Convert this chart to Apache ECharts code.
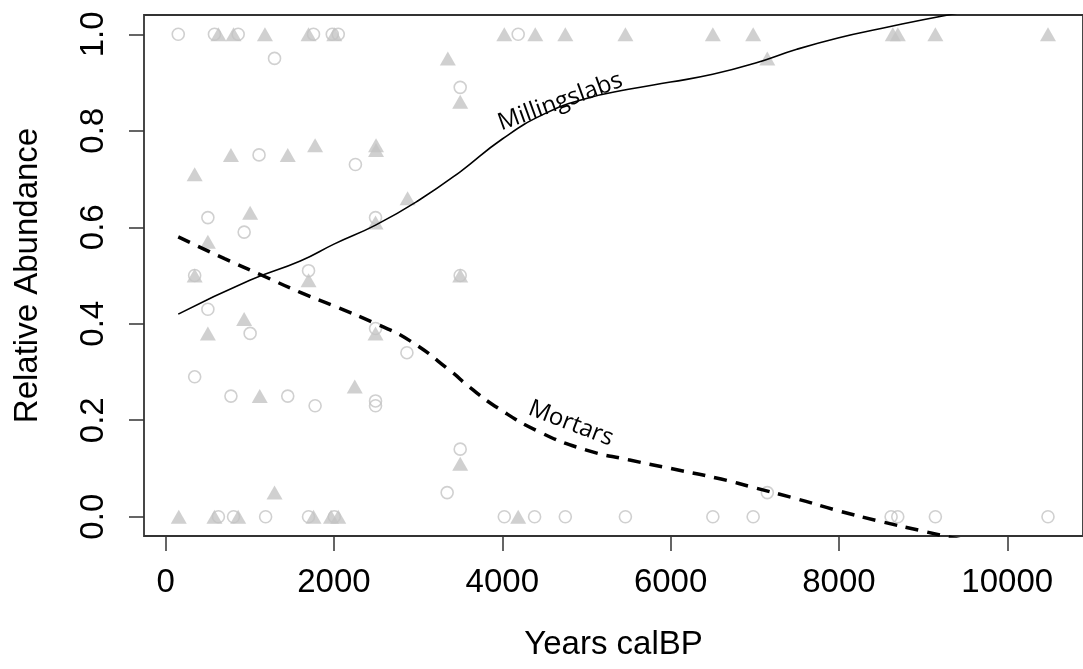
<!DOCTYPE html>
<html>
<head>
<meta charset="utf-8">
<title>Relative Abundance</title>
<script src="https://cdn.jsdelivr.net/npm/echarts@6/dist/echarts.min.js"></script>
<style>
  html, body { margin: 0; padding: 0; background: #fff; }
  #chart { width: 1083px; height: 669px; }
</style>
</head>
<body>
<div id="chart"></div>
<script>
// open circles = mortars, filled triangles = millingslabs  [years calBP, share]
const mortarPoints = [
  [150, 1], [580, 1], [862, 1], [1757, 1], [1980, 1], [2051, 1], [4189, 1],
  [1294, 0.95], [3500, 0.89], [1110, 0.75], [2255, 0.73],
  [502, 0.62], [2494, 0.62], [933, 0.59], [1698, 0.51],
  [345, 0.5], [3500, 0.5], [502, 0.43], [2494, 0.39], [1004, 0.38],
  [2867, 0.34], [345, 0.29], [776, 0.25], [1451, 0.25],
  [2494, 0.24], [1776, 0.23], [2494, 0.23], [3500, 0.14],
  [3345, 0.05], [7149, 0.05],
  [627, 0], [807, 0], [1188, 0], [1698, 0], [2004, 0], [4024, 0], [4384, 0],
  [4749, 0], [5463, 0], [6502, 0], [6981, 0], [8620, 0], [8699, 0], [9146, 0], [10484, 0]
]
const millingPoints = [
  [627, 1], [807, 1], [1180, 1], [1698, 1], [2004, 1], [4024, 1], [4392, 1],
  [4749, 1], [5463, 1], [6502, 1], [6981, 1], [8640, 1], [8700, 1], [9146, 1], [10484, 1],
  [3353, 0.95], [7149, 0.95], [3500, 0.86], [1776, 0.77], [2500, 0.77], [2500, 0.76],
  [776, 0.75], [1451, 0.75], [345, 0.71], [2875, 0.66], [1004, 0.63], [2494, 0.61],
  [502, 0.57], [345, 0.5], [3500, 0.5], [1698, 0.49], [933, 0.41],
  [502, 0.38], [2494, 0.38], [2247, 0.27], [1118, 0.25], [3500, 0.11], [1294, 0.05],
  [156, 0], [580, 0], [862, 0], [1757, 0], [1965, 0], [2051, 0], [4189, 0]
]
// smoothed trend lines
const millingCurve = [
  [150, 0.42], [1000, 0.49], [1600, 0.53], [2000, 0.565], [2500, 0.605], [3000, 0.655],
  [3500, 0.715], [4000, 0.783], [4500, 0.835], [5000, 0.867], [5500, 0.886], [6000, 0.901],
  [6500, 0.917], [7000, 0.94], [7500, 0.969], [8000, 0.993], [8500, 1.012], [9000, 1.03], [9500, 1.047]
]
const mortarCurve = [
  [150, 0.58], [700, 0.535], [1150, 0.5], [1600, 0.465], [2000, 0.437], [2500, 0.4],
  [2900, 0.365], [3400, 0.3], [3600, 0.27], [3950, 0.225], [4450, 0.175], [5000, 0.138],
  [5500, 0.118], [6000, 0.1], [6600, 0.078], [7000, 0.06], [7500, 0.037], [8000, 0.012],
  [8500, -0.01], [9000, -0.03], [9500, -0.05]
]
const xTicks = [0, 2000, 4000, 6000, 8000, 10000]
const yTicks = [0, 0.2, 0.4, 0.6, 0.8, 1.0]

const font = 'Liberation Sans, Arial, Helvetica, sans-serif'
const grey = '#c4c4c4'

const myChart = echarts.init(document.getElementById('chart'))
myChart.setOption({
  animation: false,
  textStyle: { fontFamily: font, color: '#000' },
  grid: {
    left: 144,
    top: 15,
    right: -10, // R box runs past the picture's right edge
    bottom: 133,
    show: true,
    borderColor: '#333',
    borderWidth: 1.8
  },
  xAxis: {
    type: 'value',
    min: -257,
    max: 10900,
    name: 'Years calBP',
    nameLocation: 'middle',
    nameGap: 92,
    nameTextStyle: { fontSize: 33, color: '#000', fontFamily: font },
    axisLine: { show: false, onZero: false },
    splitLine: { show: false },
    axisTick: {
      show: true,
      length: 15,
      customValues: xTicks,
      lineStyle: { color: '#333', width: 1.5 }
    },
    axisLabel: {
      customValues: xTicks,
      margin: 30,
      fontSize: 33,
      color: '#000',
      fontFamily: font,
      formatter: v => String(v)
    }
  },
  yAxis: {
    type: 'value',
    min: -0.04,
    max: 1.04,
    name: 'Relative Abundance',
    nameLocation: 'middle',
    nameGap: 100,
    nameTextStyle: { fontSize: 33, color: '#000', fontFamily: font },
    axisLine: { show: false, onZero: false },
    splitLine: { show: false },
    axisTick: {
      show: true,
      length: 15,
      customValues: yTicks,
      lineStyle: { color: '#333', width: 1.5 }
    },
    axisLabel: {
      customValues: yTicks,
      rotate: 90,
      margin: 34,
      fontSize: 33,
      color: '#000',
      fontFamily: font,
      formatter: v => v.toFixed(1)
    }
  },
  series: [
    {
      name: 'Millingslabs points',
      type: 'scatter',
      data: millingPoints,
      symbol: 'triangle',
      symbolSize: [16, 14],
      itemStyle: { color: grey }
    },
    {
      name: 'Mortars points',
      type: 'scatter',
      data: mortarPoints,
      symbol: 'circle',
      symbolSize: 12,
      itemStyle: { color: 'rgba(0,0,0,0)', borderColor: grey, borderWidth: 1.6 }
    },
    {
      name: 'Millingslabs',
      type: 'line',
      data: millingCurve,
      smooth: 0.5,
      showSymbol: false,
      lineStyle: { color: '#000', width: 1.6 },
      markPoint: {
        symbol: 'circle',
        symbolSize: 0,
        data: [{ coord: [4690, 0.86] }],
        label: {
          show: true,
          formatter: 'Millingslabs',
          position: 'inside',
          rotate: 20,
          fontSize: 24,
          fontFamily: 'Open Sans, Noto Sans, sans-serif',
          color: '#000'
        }
      }
    },
    {
      name: 'Mortars',
      type: 'line',
      data: mortarCurve,
      smooth: 0.5,
      showSymbol: false,
      lineStyle: { color: '#000', width: 3.5, type: [13, 9] },
      markPoint: {
        symbol: 'circle',
        symbolSize: 0,
        data: [{ coord: [4815, 0.193] }],
        label: {
          show: true,
          formatter: 'Mortars',
          position: 'inside',
          rotate: -21,
          fontSize: 24,
          fontFamily: 'Open Sans, Noto Sans, sans-serif',
          color: '#000'
        }
      }
    }
  ]
})
</script>
</body>
</html>
